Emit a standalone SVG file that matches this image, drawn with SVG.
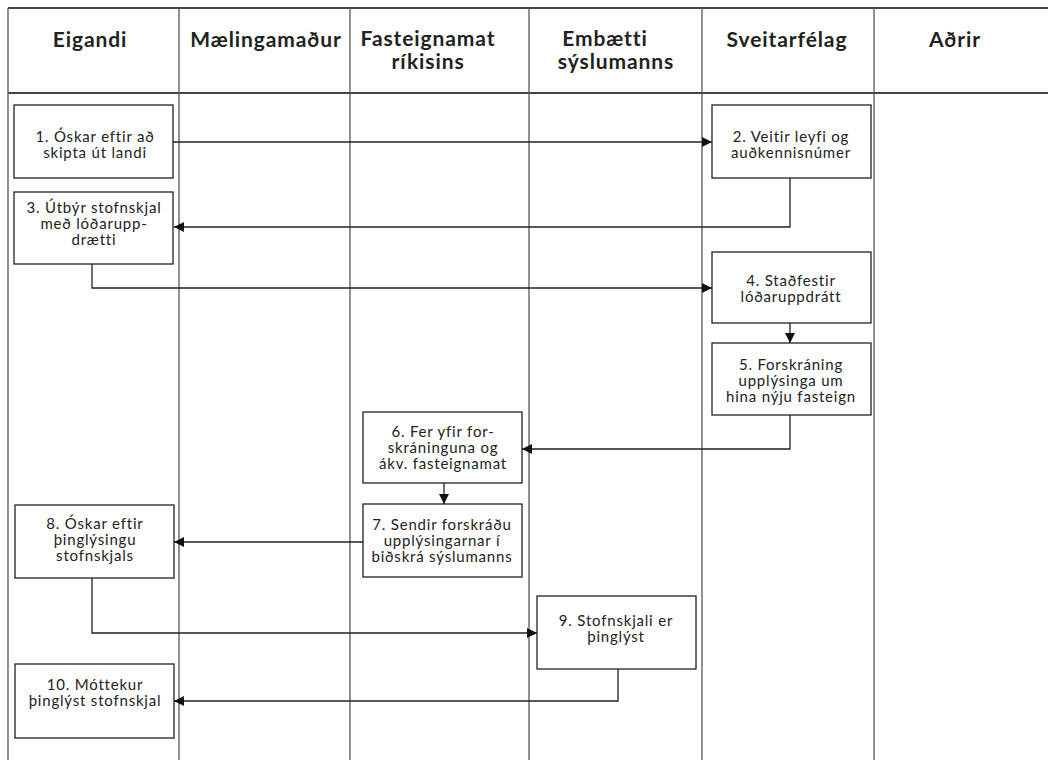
<svg xmlns="http://www.w3.org/2000/svg" width="1048" height="760" viewBox="0 0 1048 760">
  <style>
    .grid { stroke: #555; stroke-width: 1.3; fill: none; }
    .rule { stroke: #444; stroke-width: 2; fill: none; }
    .box { fill: #fff; stroke: #222; stroke-width: 1.3; }
    .link { fill: none; stroke: #222; stroke-width: 1.3; }
    .head { font-family: Lato, "Liberation Sans", sans-serif; font-weight: bold; font-size: 21px; letter-spacing: 0.9px; fill: #222; text-anchor: middle; }
    .lbl { font-family: Lato, "Liberation Sans", sans-serif; font-size: 15px; letter-spacing: 0.8px; fill: #222; text-anchor: middle; }
  </style>
  <defs>
    <marker id="arrow" viewBox="0 0 10 10" refX="10" refY="5" markerWidth="10" markerHeight="10" markerUnits="userSpaceOnUse" orient="auto">
      <path d="M0,0 L10,5 L0,10 z" fill="#111"/>
    </marker>
  </defs>

  <rect width="1048" height="760" fill="#fff"/>

  <!-- swimlane grid and lane titles -->
  <g id="lanes">
    <line class="rule" x1="8" y1="8" x2="1048" y2="8"/>
    <line class="rule" x1="8" y1="93" x2="1048" y2="93"/>
    <line class="grid" x1="8" y1="8" x2="8" y2="760"/>
    <line class="grid" x1="179" y1="8" x2="179" y2="760"/>
    <line class="grid" x1="350" y1="8" x2="350" y2="760"/>
    <line class="grid" x1="529" y1="8" x2="529" y2="760"/>
    <line class="grid" x1="702" y1="8" x2="702" y2="760"/>
    <line class="grid" x1="874" y1="8" x2="874" y2="760"/>
    <text class="head" x="90" y="47">Eigandi</text>
    <text class="head" x="266" y="47">Mælingamaður</text>
    <text class="head" x="428" y="46">Fasteignamat</text>
    <text class="head" x="428" y="69">ríkisins</text>
    <text class="head" x="605" y="46">Embætti</text>
    <text class="head" x="616" y="69">sýslumanns</text>
    <text class="head" x="787" y="47">Sveitarfélag</text>
    <text class="head" x="955" y="47">Aðrir</text>
  </g>

  <!-- connectors -->
  <g id="connectors">
    <path class="link" d="M173,142 H712" marker-end="url(#arrow)"/>
    <path class="link" d="M790,178 V227 H174" marker-end="url(#arrow)"/>
    <path class="link" d="M92,264 V288 H712" marker-end="url(#arrow)"/>
    <path class="link" d="M790,323 V343" marker-end="url(#arrow)"/>
    <path class="link" d="M790,415 V449 H522" marker-end="url(#arrow)"/>
    <path class="link" d="M444,483 V504" marker-end="url(#arrow)"/>
    <path class="link" d="M363,542 H174" marker-end="url(#arrow)"/>
    <path class="link" d="M92,578 V633 H537" marker-end="url(#arrow)"/>
    <path class="link" d="M618,669 V701 H174" marker-end="url(#arrow)"/>
  </g>

  <g id="step1">
    <rect class="box" x="14" y="105" width="159" height="73"/>
    <text class="lbl" x="95" y="142">1. Óskar eftir að</text>
    <text class="lbl" x="95" y="158">skipta út landi</text>
  </g>
  <g id="step2">
    <rect class="box" x="712" y="105" width="159" height="73"/>
    <text class="lbl" x="791" y="142">2. Veitir leyfi og</text>
    <text class="lbl" x="791" y="158">auðkennisnúmer</text>
  </g>
  <g id="step3">
    <rect class="box" x="14" y="192" width="159" height="72"/>
    <text class="lbl" x="94" y="213">3. Útbýr stofnskjal</text>
    <text class="lbl" x="94" y="229">með lóðarupp-</text>
    <text class="lbl" x="94" y="245">drætti</text>
  </g>
  <g id="step4">
    <rect class="box" x="712" y="252" width="159" height="71"/>
    <text class="lbl" x="791" y="286">4. Staðfestir</text>
    <text class="lbl" x="791" y="302">lóðaruppdrátt</text>
  </g>
  <g id="step5">
    <rect class="box" x="712" y="343" width="159" height="72"/>
    <text class="lbl" x="791" y="370">5. Forskráning</text>
    <text class="lbl" x="791" y="386">upplýsinga um</text>
    <text class="lbl" x="791" y="402">hina nýju fasteign</text>
  </g>
  <g id="step6">
    <rect class="box" x="363" y="412" width="159" height="71"/>
    <text class="lbl" x="443" y="437">6. Fer yfir for-</text>
    <text class="lbl" x="443" y="453">skráninguna og</text>
    <text class="lbl" x="443" y="469">ákv. fasteignamat</text>
  </g>
  <g id="step7">
    <rect class="box" x="363" y="504" width="159" height="73"/>
    <text class="lbl" x="442" y="530">7. Sendir forskráðu</text>
    <text class="lbl" x="442" y="546">upplýsingarnar í</text>
    <text class="lbl" x="442" y="562">biðskrá sýslumanns</text>
  </g>
  <g id="step8">
    <rect class="box" x="15" y="505" width="159" height="73"/>
    <text class="lbl" x="95" y="529">8. Óskar eftir</text>
    <text class="lbl" x="95" y="545">þinglýsingu</text>
    <text class="lbl" x="95" y="561">stofnskjals</text>
  </g>
  <g id="step9">
    <rect class="box" x="537" y="596" width="159" height="73"/>
    <text class="lbl" x="616" y="626">9. Stofnskjali er</text>
    <text class="lbl" x="616" y="642">þinglýst</text>
  </g>
  <g id="step10">
    <rect class="box" x="15" y="664" width="159" height="74"/>
    <text class="lbl" x="95" y="690">10. Móttekur</text>
    <text class="lbl" x="95" y="706">þinglýst stofnskjal</text>
  </g>
</svg>
